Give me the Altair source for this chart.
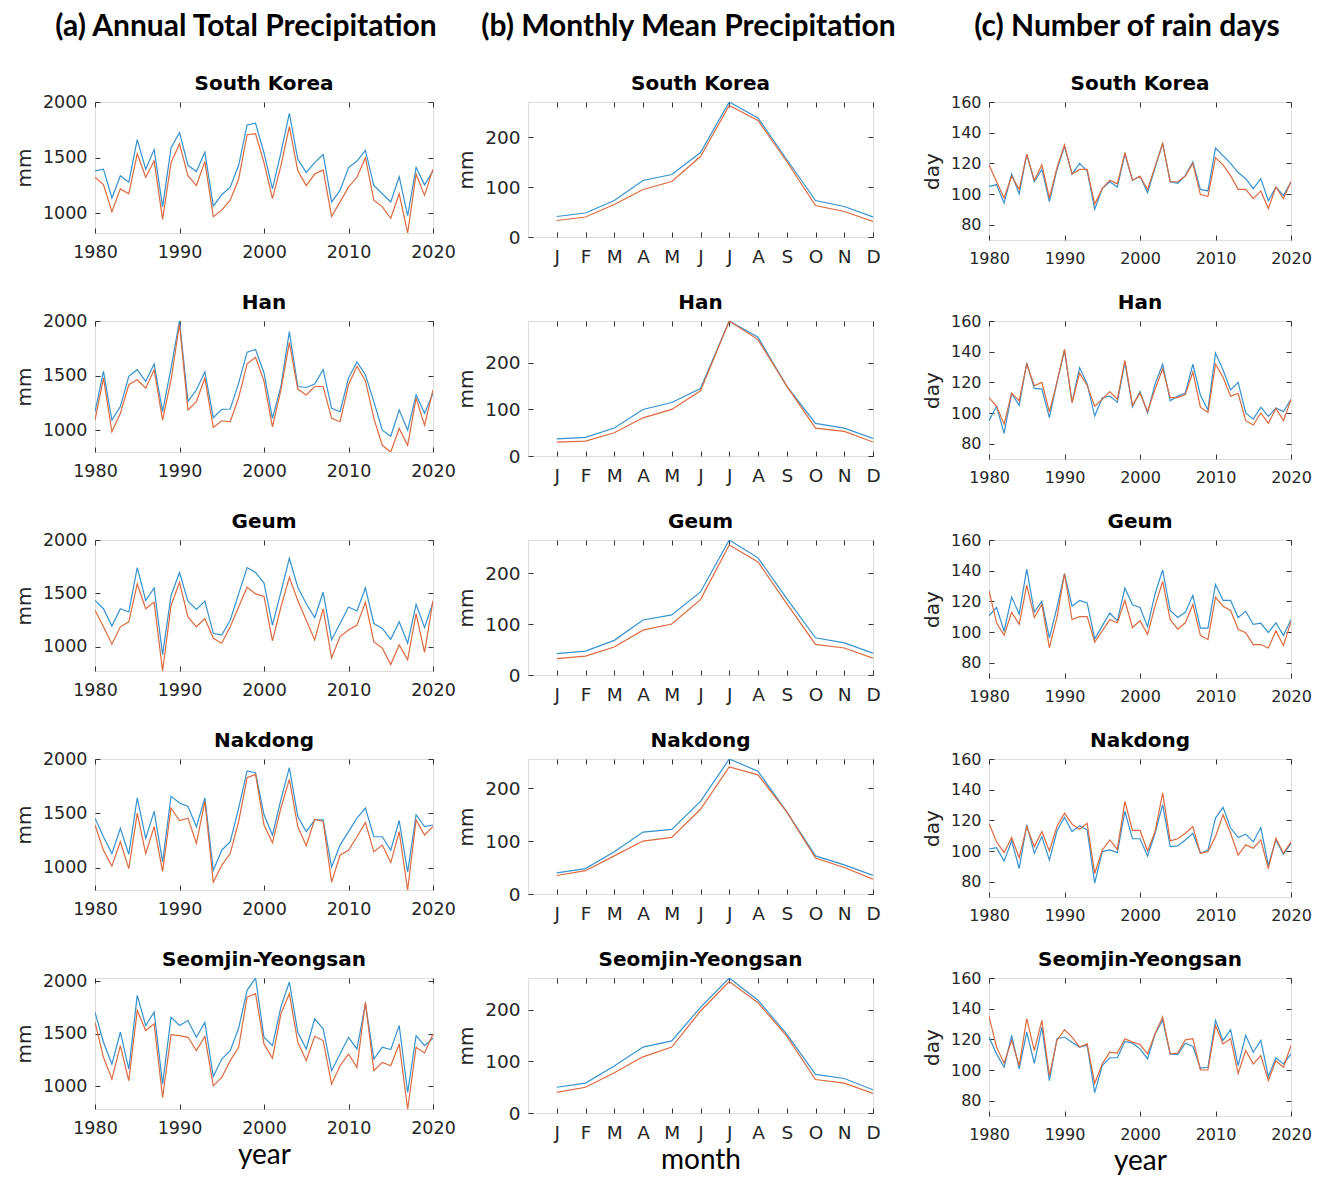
import json
import altair as alt
import pandas as pd

# ---------------- data ----------------
years = list(range(1980, 2021))
months = list(range(1, 13))
month_letters = ["J", "F", "M", "A", "M", "J", "J", "A", "S", "O", "N", "D"]
regions = ["South Korea", "Han", "Geum", "Nakdong", "Seomjin-Yeongsan"]
column_titles = ["(a) Annual Total Precipitation", "(b) Monthly Mean Precipitation", "(c) Number of rain days"]
bottom_titles = ["year", "month", "year"]
y_titles = ["mm", "mm", "day"]

# (a) annual total precipitation (mm), 1980-2020
sk_annual_blue = [1382, 1397, 1138, 1338, 1280, 1662, 1397, 1573, 1059, 1588, 1726, 1432, 1376, 1550, 1065, 1168, 1235, 1432, 1794, 1809, 1544, 1220, 1544, 1897, 1485, 1368, 1456, 1529, 1103, 1206, 1412, 1470, 1565, 1250, 1176, 1103, 1329, 979, 1412, 1256, 1382]
sk_annual_orange = [1324, 1259, 1015, 1220, 1176, 1535, 1324, 1470, 947, 1456, 1624, 1338, 1250, 1465, 971, 1029, 1118, 1309, 1706, 1715, 1456, 1132, 1426, 1779, 1382, 1250, 1353, 1391, 971, 1103, 1235, 1324, 1500, 1118, 1059, 956, 1176, 824, 1353, 1162, 1397]
han_annual_blue = [1169, 1539, 1092, 1216, 1493, 1554, 1447, 1607, 1169, 1570, 2000, 1262, 1370, 1533, 1114, 1191, 1194, 1431, 1715, 1739, 1524, 1108, 1400, 1902, 1400, 1391, 1422, 1554, 1200, 1169, 1477, 1625, 1508, 1262, 1000, 945, 1185, 1000, 1323, 1154, 1339]
han_annual_orange = [1092, 1477, 985, 1154, 1416, 1462, 1385, 1554, 1092, 1462, 1970, 1185, 1262, 1477, 1025, 1086, 1077, 1299, 1607, 1668, 1447, 1031, 1370, 1801, 1376, 1323, 1400, 1400, 1108, 1077, 1416, 1585, 1453, 1108, 861, 800, 1015, 861, 1293, 1046, 1370]
geum_annual_blue = [1432, 1355, 1192, 1355, 1324, 1741, 1432, 1550, 923, 1479, 1695, 1426, 1349, 1426, 1124, 1108, 1247, 1494, 1741, 1695, 1596, 1201, 1510, 1828, 1556, 1402, 1272, 1510, 1062, 1216, 1371, 1334, 1550, 1216, 1170, 1068, 1232, 1031, 1395, 1179, 1417]
geum_annual_orange = [1340, 1185, 1022, 1185, 1232, 1587, 1355, 1417, 770, 1386, 1603, 1278, 1185, 1263, 1077, 1031, 1185, 1371, 1556, 1494, 1470, 1053, 1371, 1649, 1432, 1247, 1062, 1355, 892, 1093, 1155, 1201, 1417, 1046, 985, 830, 1015, 876, 1309, 944, 1432]
nak_annual_blue = [1456, 1285, 1130, 1363, 1124, 1642, 1270, 1518, 1053, 1657, 1595, 1564, 1378, 1642, 975, 1161, 1239, 1549, 1890, 1874, 1487, 1301, 1626, 1921, 1471, 1332, 1440, 1440, 1006, 1208, 1332, 1456, 1549, 1285, 1285, 1161, 1434, 960, 1487, 1378, 1393]
nak_annual_orange = [1393, 1161, 1015, 1239, 991, 1502, 1130, 1378, 966, 1549, 1434, 1456, 1223, 1611, 867, 1022, 1130, 1425, 1828, 1859, 1393, 1229, 1549, 1812, 1378, 1202, 1446, 1425, 867, 1115, 1161, 1285, 1415, 1146, 1208, 1047, 1332, 795, 1440, 1301, 1378]
sy_annual_blue = [1706, 1420, 1213, 1515, 1165, 1865, 1579, 1706, 1022, 1658, 1579, 1626, 1467, 1610, 1095, 1261, 1340, 1553, 1913, 2030, 1467, 1388, 1754, 1992, 1515, 1356, 1642, 1547, 1149, 1308, 1467, 1356, 1785, 1261, 1372, 1350, 1579, 943, 1483, 1388, 1458]
sy_annual_orange = [1611, 1277, 1070, 1388, 1054, 1722, 1531, 1595, 895, 1493, 1483, 1467, 1340, 1474, 1006, 1086, 1245, 1372, 1849, 1881, 1404, 1267, 1690, 1881, 1420, 1245, 1477, 1436, 1022, 1197, 1308, 1181, 1801, 1149, 1229, 1197, 1404, 786, 1372, 1318, 1499]

# (b) monthly mean precipitation (mm)
sk_month_blue = [41, 48, 73, 113, 125, 169, 270, 238, 155, 73, 61, 40]
sk_month_orange = [33, 40, 65, 95, 111, 161, 263, 233, 151, 63, 51, 31]
han_month_blue = [37, 40, 60, 100, 115, 145, 290, 255, 150, 70, 60, 38]
han_month_orange = [30, 32, 50, 82, 100, 140, 290, 250, 150, 60, 53, 30]
geum_month_blue = [42, 47, 68, 108, 118, 163, 265, 230, 150, 73, 63, 43]
geum_month_orange = [32, 37, 55, 88, 100, 148, 255, 222, 140, 60, 53, 33]
nak_month_blue = [40, 48, 80, 117, 122, 175, 255, 232, 155, 72, 55, 35]
nak_month_orange = [35, 44, 72, 100, 107, 160, 240, 225, 155, 68, 50, 28]
sy_month_blue = [50, 58, 91, 128, 140, 205, 262, 219, 153, 75, 67, 45]
sy_month_orange = [40, 50, 78, 109, 128, 198, 255, 214, 149, 65, 58, 38]

# (c) number of rain days, 1980-2020
sk_days_blue = [105, 106, 94, 113, 100, 126, 108, 116, 95, 116, 131, 113, 120, 115, 90, 103.5, 108, 104.5, 126, 109, 111.6, 101, 117, 133, 108, 107, 112, 121, 103, 102, 130, 125, 120, 114, 110, 103.5, 110, 95.6, 104.5, 99, 108]
sk_days_orange = [119, 108, 97.4, 111.6, 103, 126, 109, 119, 97.4, 117, 132, 113, 116, 116, 93.4, 103.5, 109, 106.6, 127, 109, 111.6, 103, 118, 133, 108, 108, 111.6, 120, 99.6, 98.5, 123.7, 119, 112, 103, 103, 97, 102, 90.5, 104.5, 97, 108]
han_days_blue = [95, 104.4, 86.7, 112.7, 105, 132.7, 116, 115.6, 97, 120, 140.7, 107, 129.6, 119, 98, 110, 111, 107, 133, 104, 114, 100, 119, 131.8, 108, 111, 113, 131.8, 111.6, 102, 139, 128, 115, 120, 100, 96, 103.8, 97.8, 103.3, 101, 108.9]
han_days_orange = [110, 104.4, 92.7, 113, 108, 132, 117.8, 120, 100.7, 120, 141.6, 106.7, 126, 118, 104.4, 108.9, 114, 108.9, 134.4, 105, 113, 101, 115.6, 128.9, 110, 110, 112, 126.7, 103.8, 100.4, 131.8, 123.3, 111, 112.7, 95, 92.2, 100, 93.3, 102.9, 95, 108.9]
geum_days_blue = [110.6, 116, 100.7, 122.8, 111.7, 141, 113, 120, 96, 116, 138, 116.8, 120.6, 119, 95.6, 104, 112.4, 107.3, 128.7, 117.7, 116, 103.5, 125, 140.4, 114, 109.5, 112.8, 123.9, 102.5, 102.5, 131, 120.6, 120.6, 109.5, 113.5, 105, 105.7, 99.6, 106, 97.8, 108]
geum_days_orange = [127, 106, 97.8, 112.8, 105, 130.5, 109.5, 118, 89.6, 109.5, 138, 108, 110, 110, 93.4, 100.7, 108, 106, 120.6, 102.9, 107.3, 98.5, 117, 133, 108, 101.8, 106, 118, 97.8, 95, 122.8, 116.8, 114, 101.8, 99.6, 91.8, 91.8, 89.6, 100.7, 91.2, 106.6]
nak_days_blue = [101.3, 102.2, 93.4, 106.6, 88.6, 117, 98.5, 109.4, 94, 113, 122, 112.7, 116.4, 113.8, 79, 99.6, 100.7, 98.9, 125.8, 108, 108, 96.7, 111.6, 130.2, 102.8, 103.3, 107.2, 111.6, 98.5, 100.7, 121.5, 128.5, 115, 108.8, 111, 106, 115.3, 90.8, 107.2, 97.8, 105]
nak_days_orange = [118, 106, 98.9, 108.8, 95.6, 116, 102.8, 112.7, 100, 116, 124.7, 117.5, 114.2, 118, 85.3, 100.7, 107.2, 101, 132.4, 113.4, 113.4, 100, 112.7, 137.9, 106.6, 108, 111.6, 116, 98.5, 99.6, 109.4, 123.6, 111.6, 97.4, 104, 101.8, 107.2, 88.6, 108.3, 98.5, 106]
sy_days_blue = [121.5, 110.5, 101.8, 122.6, 100.7, 124.7, 104.4, 128, 93, 120.4, 121.5, 118, 115, 116, 85.3, 102.8, 108, 108, 118.6, 117.5, 113.8, 107.2, 123.6, 132.4, 110.5, 110, 117.5, 115.3, 101.3, 101.8, 132.4, 119.3, 126.3, 102.8, 122.6, 111.6, 119.3, 95.6, 108, 104, 110.5]
sy_days_orange = [135, 114.9, 104.4, 119.3, 102.8, 133.5, 112.7, 132.4, 96.3, 119.3, 126.3, 121.5, 115, 117, 91.2, 104, 111.6, 111, 120.4, 118.2, 116.6, 110.5, 123.6, 134.6, 110.5, 111, 119.7, 120.4, 100, 100, 129, 117, 120.4, 97.8, 112.7, 104, 109.4, 93, 106, 101.8, 116]

annual_ticks_x = [1980, 1990, 2000, 2010, 2020]
annual_ticks_y = [1000, 1500, 2000]
month_ticks_y = [0, 100, 200]
days_ticks_y = [80, 100, 120, 140, 160]
days_domain = [70, 160]

# ---------------- styling ----------------
BLUE = "#3592cf"
ORANGE = "#dc6a3e"
FONT = "DejaVu Sans"
TITLE_FONT = "Lato"

columns = [
    dict(x=years, blue=[sk_annual_blue, han_annual_blue, geum_annual_blue, nak_annual_blue, sy_annual_blue],
         orange=[sk_annual_orange, han_annual_orange, geum_annual_orange, nak_annual_orange, sy_annual_orange],
         xdom=[1980, 2020], xticks=annual_ticks_x, yticks=annual_ticks_y, width=338, height=131, fs=17.5,
         ydom=lambda b, o: [min(b + o), max(2000, max(b + o))], tdx=-18),
    dict(x=months, blue=[sk_month_blue, han_month_blue, geum_month_blue, nak_month_blue, sy_month_blue],
         orange=[sk_month_orange, han_month_orange, geum_month_orange, nak_month_orange, sy_month_orange],
         xdom=[0, 12], xticks=months, yticks=month_ticks_y, width=345, height=135, fs=18.5,
         ydom=lambda b, o: [0, max(b + o)], tdx=-12,
         labelExpr=json.dumps(month_letters) + "[datum.value - 1]"),
    dict(x=years, blue=[sk_days_blue, han_days_blue, geum_days_blue, nak_days_blue, sy_days_blue],
         orange=[sk_days_orange, han_days_orange, geum_days_orange, nak_days_orange, sy_days_orange],
         xdom=[1980, 2020], xticks=annual_ticks_x, yticks=days_ticks_y, width=302, height=138, fs=16,
         ydom=lambda b, o: days_domain, tdx=-13),
]


def panel(ci, ri):
    cfg = columns[ci]
    b = cfg["blue"][ri]
    o = cfg["orange"][ri]
    df = pd.DataFrame({"x": cfg["x"], "blue": b, "orange": o})
    xscale = alt.Scale(domain=cfg["xdom"], nice=False, zero=False)
    yscale = alt.Scale(domain=cfg["ydom"](b, o), nice=False, zero=False)
    last = ri == len(regions) - 1

    xkw = dict(orient="bottom", values=cfg["xticks"], offset=-5, tickSize=5, domain=False, grid=False,
               labelPadding=10, labelFontSize=cfg["fs"], labelFont=FONT, labelColor="#262626",
               labelFlush=False, labelOverlap=False, tickColor="#333333", tickWidth=1, format="d")
    if "labelExpr" in cfg:
        xkw["labelExpr"] = cfg["labelExpr"]
    if last:
        xkw.update(title=bottom_titles[ci], titleFont=TITLE_FONT, titleFontSize=28,
                   titleFontWeight="normal", titleColor="#000000", titlePadding=5)
    else:
        xkw.update(title="")
    ykw = dict(orient="left", values=cfg["yticks"], offset=-5, tickSize=5, domain=False, grid=False,
               labelPadding=8, labelFontSize=cfg["fs"], labelFont=FONT, labelColor="#262626",
               labelFlush=False, labelOverlap=False, tickColor="#333333", tickWidth=1, format="d",
               title=y_titles[ci], titleFont=FONT, titleFontSize=20, titleFontWeight="normal",
               titleColor="#262626", titlePadding=8)

    base = alt.Chart(df)
    blue_line = base.mark_line(color=BLUE, strokeWidth=1.2, clip=True).encode(
        x=alt.X("x:Q", scale=xscale, axis=alt.Axis(**xkw)),
        y=alt.Y("blue:Q", scale=yscale, axis=alt.Axis(**ykw)),
    )
    orange_line = base.mark_line(color=ORANGE, strokeWidth=1.2, clip=True).encode(
        x=alt.X("x:Q", scale=xscale,
                axis=alt.Axis(orient="top", values=cfg["xticks"], offset=-5, tickSize=5, domain=False,
                              grid=False, labels=False, title="", tickColor="#333333")),
        y=alt.Y("orange:Q", scale=yscale,
                axis=alt.Axis(orient="right", values=cfg["yticks"], offset=-5, tickSize=5, domain=False,
                              grid=False, labels=False, title="", tickColor="#333333")),
    )
    region_txt = alt.Chart(pd.DataFrame({"t": [regions[ri]]})).mark_text(
        font=FONT, fontSize=20, fontWeight="bold", color="#000000", baseline="middle", align="center"
    ).encode(text="t:N", x=alt.value(cfg["width"] / 2), y=alt.value(-18))
    layers = [blue_line, orange_line, region_txt]
    if ri == 0:
        txt = alt.Chart(pd.DataFrame({"t": [column_titles[ci]]})).mark_text(
            font=TITLE_FONT, fontSize=30, fontWeight="bold", color="#000000", baseline="middle", align="center"
        ).encode(text="t:N", x=alt.value(cfg["width"] / 2 + cfg["tdx"]), y=alt.value(-75))
        layers.append(txt)
    return alt.layer(*layers).resolve_axis(x="independent", y="independent").properties(
        width=cfg["width"], height=cfg["height"])


def spacer(w):
    return alt.Chart(pd.DataFrame({"a": [0]})).mark_point(opacity=0).properties(
        width=w, height=10, view=alt.ViewBackground(strokeOpacity=0))


charts = []
for ri in range(len(regions)):
    charts += [panel(0, ri), spacer(95), panel(1, ri), spacer(116), panel(2, ri)]

chart = alt.concat(*charts, columns=5, bounds="flush", spacing={"row": 81, "column": 0}).properties(
    padding={"left": 5, "top": 3, "right": 5, "bottom": 5}
).configure_view(
    stroke="#555555", strokeWidth=1
).configure(background="white")

chart.save("out.html", embed_options={"renderer": "svg", "actions": False})
